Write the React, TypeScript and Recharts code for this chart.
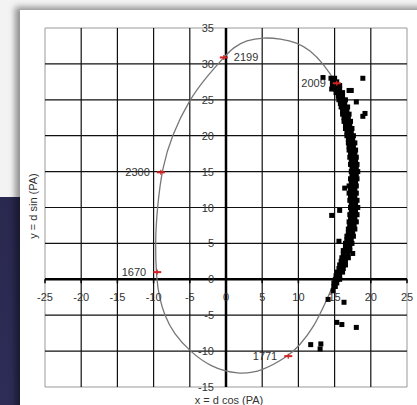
import React from 'react';
import {
  ComposedChart,
  XAxis,
  YAxis,
  Line,
  Scatter,
  ReferenceLine,
  ReferenceArea,
} from 'recharts';

// axis ticks
const xTickValues = [-25, -20, -15, -10, -5, 0, 5, 10, 15, 20, 25];
const yTickValues = [35, 30, 25, 20, 15, 10, 5, 0, -5, -10, -15];
const gridX = [-20, -15, -10, -5, 5, 10, 15, 20];
const gridY = [-10, -5, 5, 10, 15, 20, 25, 30];

// orbit (ellipse), closed loop
const orbitX = [17.6, 17.3, 16.6, 15.3, 13.4, 11.6, 9.8, 7.5, 5.2, 2.8, 1.0, -0.3, -2.6, -5.1, -7.5, -8.8, -9.5, -9.8, -9.6, -9.2, -8.5, -7.2, -5.0, -2.2, 1.7, 5.0, 8.6, 10.0, 12.2, 13.9, 15.2, 16.4, 17.3];
const orbitY = [15.4, 20.4, 24.4, 27.3, 30.1, 31.9, 33.0, 33.5, 33.7, 33.3, 32.3, 30.9, 28.3, 25.0, 20.0, 15.6, 10.0, 5.0, 0.0, -2.6, -5.0, -7.6, -10.0, -12.2, -13.3, -12.8, -10.7, -9.4, -6.6, -2.9, 0.0, 5.0, 10.0];

// labelled epochs on the orbit
const epochNames = ['2199', '2009', '2300', '1670', '1771'];
const epochX = [-0.3, 15.3, -9.0, -9.5, 8.6];
const epochY = [30.9, 27.3, 14.9, 1.0, -10.7];
const epochSide = ['right', 'left', 'left', 'left', 'left'];

// measured positions [x, y]
const measured: [number, number][] = [
  [14.9, -1.0], [15.1, -1.0], [14.9, -0.5], [15.3, -0.5],
  [15.1, 0], [15.4, 0], [15.7, 0], [15.2, 0.5], [15.7, 0.5],
  [15.4, 1.0], [15.7, 1.0], [16.1, 1.0], [15.6, 1.5], [16.2, 1.5],
  [15.7, 2.0], [16.0, 2.0], [16.5, 2.0], [15.9, 2.5], [16.5, 2.5],
  [16.0, 3.0], [16.4, 3.0], [16.9, 3.0], [16.2, 3.5], [16.8, 3.5],
  [16.2, 4.0], [16.6, 4.0], [17.1, 4.0], [16.5, 4.5], [17.1, 4.5],
  [16.5, 5.0], [16.9, 5.0], [17.4, 5.0], [16.7, 5.5], [17.3, 5.5],
  [16.7, 6.0], [17.1, 6.0], [17.6, 6.0], [16.9, 6.5], [17.5, 6.5],
  [16.9, 7.0], [17.3, 7.0], [17.8, 7.0], [17.1, 7.5], [17.7, 7.5],
  [17.0, 8.0], [17.5, 8.0], [18.0, 8.0], [17.2, 8.5], [17.8, 8.5],
  [17.1, 9.0], [17.6, 9.0], [18.1, 9.0], [17.3, 9.5], [17.9, 9.5],
  [17.2, 10.0], [17.7, 10.0], [18.2, 10.0], [17.3, 10.5], [17.9, 10.5],
  [17.1, 11.0], [17.6, 11.0], [18.1, 11.0], [17.2, 11.5], [17.8, 11.5],
  [17.0, 12.0], [17.5, 12.0], [18.0, 12.0], [17.2, 12.5], [17.8, 12.5],
  [17.0, 13.0], [17.5, 13.0], [18.0, 13.0], [17.3, 13.5], [17.9, 13.5],
  [17.2, 14.0], [17.6, 14.0], [18.1, 14.0], [17.4, 14.5], [18.0, 14.5],
  [17.3, 15.0], [17.7, 15.0], [18.2, 15.0], [17.4, 15.5], [18.0, 15.5],
  [17.2, 16.0], [17.6, 16.0], [18.1, 16.0], [17.3, 16.5], [17.9, 16.5],
  [17.1, 17.0], [17.5, 17.0], [18.0, 17.0], [17.2, 17.5], [17.8, 17.5],
  [17.0, 18.0], [17.4, 18.0], [17.9, 18.0], [17.0, 18.5], [17.6, 18.5],
  [16.9, 19.0], [17.3, 19.0], [17.8, 19.0], [16.9, 19.5], [17.5, 19.5],
  [16.7, 20.0], [17.1, 20.0], [17.6, 20.0], [16.7, 20.5], [17.3, 20.5],
  [16.5, 21.0], [16.9, 21.0], [17.4, 21.0], [16.5, 21.5], [17.1, 21.5],
  [16.3, 22.0], [16.7, 22.0], [17.2, 22.0], [16.3, 22.5], [16.9, 22.5],
  [16.1, 23.0], [16.5, 23.0], [17.0, 23.0], [16.1, 23.5], [16.7, 23.5],
  [15.9, 24.0], [16.3, 24.0], [16.8, 24.0], [15.8, 24.5], [16.4, 24.5],
  [15.6, 25.0], [16.0, 25.0], [16.5, 25.0], [15.5, 25.5], [16.1, 25.5],
  [15.2, 26.0], [15.6, 26.0], [16.1, 26.0], [15.1, 26.5], [15.7, 26.5],
  [14.7, 27.0], [15.2, 27.0], [15.7, 27.0], [14.7, 27.5], [15.3, 27.5],
  [14.5, 28.0], [15.0, 28.0],
  [13.4, 28.1], [14.6, 26.5], [18.9, 28.0], [17.0, 26.3], [17.3, 26.3],
  [18.0, 24.7], [19.2, 23.1], [18.9, 22.7], [16.4, 12.7],
  [14.6, 8.9], [15.7, 9.6], [15.6, 5.3], [17.5, 3.6],
  [14.1, -2.8], [16.3, -3.2], [14.8, -1.6], [15.3, -6.0], [16.0, -6.3],
  [18.0, -6.7], [11.7, -9.1], [13.1, -9.0], [13.0, -9.7],
];

const orbitData = orbitX.map((x, i) => ({ x, y: orbitY[i] }));
const epochData = epochNames.map((label, i) => ({ x: epochX[i], y: epochY[i], label, side: epochSide[i] }));
const measuredData = measured.map(([x, y]) => ({ x, y }));
const yTickData = yTickValues.map((v) => ({ x: 0, y: v, label: String(v) }));
const xTickData = xTickValues.map((v) => ({ x: v, y: 0, label: String(v) }));

const FONT = '"Liberation Sans", Arial, sans-serif';

const SquareMark = (props: any) => {
  const { cx, cy } = props;
  if (cx == null || cy == null) return null;
  return <rect x={cx - 2.5} y={cy - 2.5} width={5} height={5} fill="#000" />;
};

const EpochMark = (props: any) => {
  const { cx, cy, payload } = props;
  if (cx == null || cy == null) return null;
  const right = payload.side === 'right';
  return (
    <g>
      <line x1={cx - 4} x2={cx + 4} y1={cy} y2={cy} stroke="#d42222" strokeWidth={2} />
      <line x1={cx} x2={cx} y1={cy - 2.5} y2={cy + 2.5} stroke="#d42222" strokeWidth={1.2} />
      <text
        x={right ? cx + 10 : cx - 11}
        y={cy + 4}
        textAnchor={right ? 'start' : 'end'}
        fontSize={11}
        fontFamily={FONT}
        fill="#333"
      >
        {payload.label}
      </text>
    </g>
  );
};

const YTickMark = (props: any) => {
  const { cx, cy, payload } = props;
  if (cx == null || cy == null) return null;
  return (
    <text x={cx - 12} y={cy + 4} textAnchor="end" fontSize={11} fontFamily={FONT} fill="#333">
      {payload.label}
    </text>
  );
};

const XTickMark = (props: any) => {
  const { cx, cy, payload } = props;
  if (cx == null || cy == null) return null;
  return (
    <g>
      <line x1={cx} x2={cx} y1={cy} y2={cy + 4} stroke="#000" strokeWidth={1.5} />
      <text x={cx} y={cy + 22} textAnchor="middle" fontSize={11} fontFamily={FONT} fill="#333">
        {payload.label}
      </text>
    </g>
  );
};

export default function App() {
  return (
    <div
      style={{
        position: 'absolute',
        left: 0,
        top: 0,
        width: 417,
        height: 405,
        overflow: 'hidden',
        background: '#f3f3f3',
        fontFamily: FONT,
      }}
    >
      <div
        style={{
          position: 'absolute',
          left: 0,
          top: 197,
          width: 24,
          height: 208,
          background: 'linear-gradient(180deg, #29284e, #2e2d58)',
        }}
      />
      <div
        style={{
          position: 'absolute',
          left: 20,
          top: 10,
          width: 410,
          height: 410,
          background: '#fff',
          boxShadow: '-5px -3px 6px rgba(0,0,0,0.4)',
        }}
      />
      <div style={{ position: 'absolute', left: 0, top: 0 }}>
        <ComposedChart width={417} height={405} margin={{ top: 28, right: 10, bottom: 18, left: 45 }}>
          <XAxis
            type="number"
            dataKey="x"
            domain={[-25, 25]}
            ticks={xTickValues}
            height={0}
            tick={false}
            axisLine={false}
            tickLine={false}
          />
          <YAxis
            type="number"
            dataKey="y"
            domain={[-15, 35]}
            ticks={yTickValues}
            width={0}
            tick={false}
            axisLine={false}
            tickLine={false}
          />
          <ReferenceArea x1={-25} x2={25} y1={-15} y2={35} fill="#fff" fillOpacity={0} stroke="#999" strokeWidth={1} />
          {gridX.map((v) => (
            <ReferenceLine key={`gx${v}`} x={v} stroke="#111" strokeWidth={1.2} />
          ))}
          {gridY.map((v) => (
            <ReferenceLine key={`gy${v}`} y={v} stroke="#111" strokeWidth={1.2} />
          ))}
          <ReferenceLine x={0} stroke="#000" strokeWidth={2.5} />
          <ReferenceLine y={0} stroke="#000" strokeWidth={2.5} />
          <Line
            data={orbitData}
            dataKey="y"
            type="basisClosed"
            stroke="#777"
            strokeWidth={1.3}
            dot={false}
            isAnimationActive={false}
          />
          <Scatter data={measuredData} dataKey="y" shape={SquareMark} isAnimationActive={false} />
          <Scatter data={epochData} dataKey="y" shape={EpochMark} isAnimationActive={false} />
          <Scatter data={yTickData} dataKey="y" shape={YTickMark} isAnimationActive={false} />
          <Scatter data={xTickData} dataKey="y" shape={XTickMark} isAnimationActive={false} />
        </ComposedChart>
      </div>
      <div
        style={{
          position: 'absolute',
          left: 229,
          top: 400,
          transform: 'translate(-50%, -50%)',
          fontSize: 11,
          color: '#333',
          whiteSpace: 'nowrap',
        }}
      >
        x = d cos (PA)
      </div>
      <div
        style={{
          position: 'absolute',
          left: 33,
          top: 206,
          transform: 'translate(-50%, -50%) rotate(-90deg)',
          fontSize: 11,
          color: '#333',
          whiteSpace: 'nowrap',
        }}
      >
        y = d sin (PA)
      </div>
    </div>
  );
}
